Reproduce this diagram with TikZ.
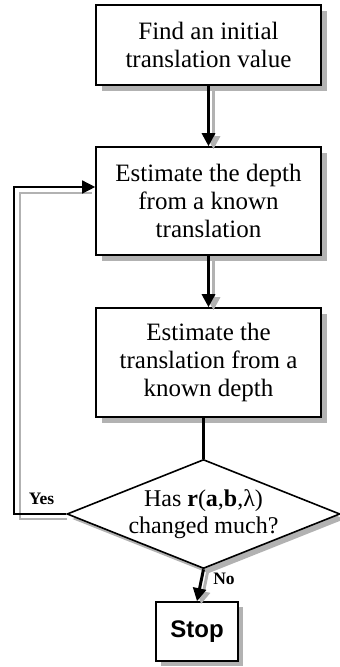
\documentclass[tikz,border=0pt]{standalone}
\usepackage{fontspec}
\setmainfont{Liberation Serif}
\newfontfamily\stopfont{Liberation Sans}
\usetikzlibrary{shapes.geometric,arrows.meta,shadows}
\definecolor{shade}{gray}{0.70}
\tikzset{
  procbox/.style={draw=black, line width=1.6pt, fill=white, inner sep=0pt,
    minimum width=225pt, align=center,
    font=\fontsize{25}{28}\selectfont,
    drop shadow={shadow xshift=6pt, shadow yshift=-6pt, fill=shade, opacity=1}},
  decbox/.style={diamond, aspect=2.5, draw=black, line width=1.6pt, fill=white,
    inner sep=0pt, minimum width=273pt, minimum height=109pt, align=center,
    font=\fontsize{24}{27}\selectfont,
    drop shadow={shadow xshift=5pt, shadow yshift=-5pt, fill=shade, opacity=1}},
  stopbox/.style={draw=black, line width=1.6pt, fill=white, inner sep=0pt,
    minimum width=82pt, minimum height=59pt,
    font=\stopfont\bfseries\fontsize{24}{26}\selectfont,
    drop shadow={shadow xshift=5pt, shadow yshift=-5pt, fill=shade, opacity=1}},
  flow/.style={draw=black, line width=3pt, -{Triangle[length=13pt,width=13pt]}},
  flowshade/.style={draw=shade, line width=3pt, -{Triangle[length=13pt,width=13pt]}},
  loopline/.style={draw=black, line width=1.4pt},
  loopshade/.style={draw=shade, line width=1.4pt},
  answer/.style={font=\bfseries\fontsize{17.5}{19}\selectfont, inner sep=0pt},
}
\begin{document}
\begin{tikzpicture}[x=1pt, y=1pt]
\useasboundingbox (0,0) rectangle (340,667);

% process steps
\node[procbox, minimum height=80pt] (b1) at (208.5,622)
  {Find an initial\\translation value};
\node[procbox, minimum height=108pt] (b2) at (208.5,466)
  {Estimate the depth\\from a known\\translation};
\node[procbox, minimum height=109pt] (b3) at (208.5,304.5)
  {Estimate the\\translation from a\\known depth};

% decision
\node[decbox] (dec) at (203.5,153)
  {Has \textbf{r}(\textbf{a},\textbf{b},λ)\\changed much?};

% end
\node[stopbox] (stop) at (197,35.5) {Stop};

% shadows of the connectors
\draw[flowshade] ([xshift=5pt,yshift=-3pt]b1.south) -- ([xshift=5pt,yshift=-3pt]b2.north);
\draw[flowshade] ([xshift=5pt,yshift=-3pt]b2.south) -- ([xshift=5pt,yshift=-3pt]b3.north);
\draw[flowshade] ([xshift=4pt,yshift=-3pt]dec.south) -- ([xshift=4pt,yshift=-3pt]stop.north);

% connectors
\draw[flow] (b1.south) -- (b2.north);
\draw[flow] (b2.south) -- (b3.north);
\draw[line width=3pt] (b3.south -| dec.north) -- (dec.north);
\draw[flow] (dec.south) -- (stop.north);

% feedback loop from the decision back to the depth estimate
\coordinate (lb) at (14,153);
\coordinate (lt) at (14,480);
\coordinate (sb) at (20,148);
\coordinate (st) at (20,474);
\coordinate (se) at (92,474);
\coordinate (sd) at (67,148);
\draw[loopshade] (sd) -- (sb) -- (st) -- (se);
\draw[loopline, -{Triangle[length=13pt,width=13pt]}]
  (dec.west) -- (lb) -- (lt) -- (lt -| b2.west);

% branch labels
\node[answer] (yes) at (41.5,168) {Yes};
\node[answer] (no) at (224,88) {No};
\end{tikzpicture}
\end{document}
